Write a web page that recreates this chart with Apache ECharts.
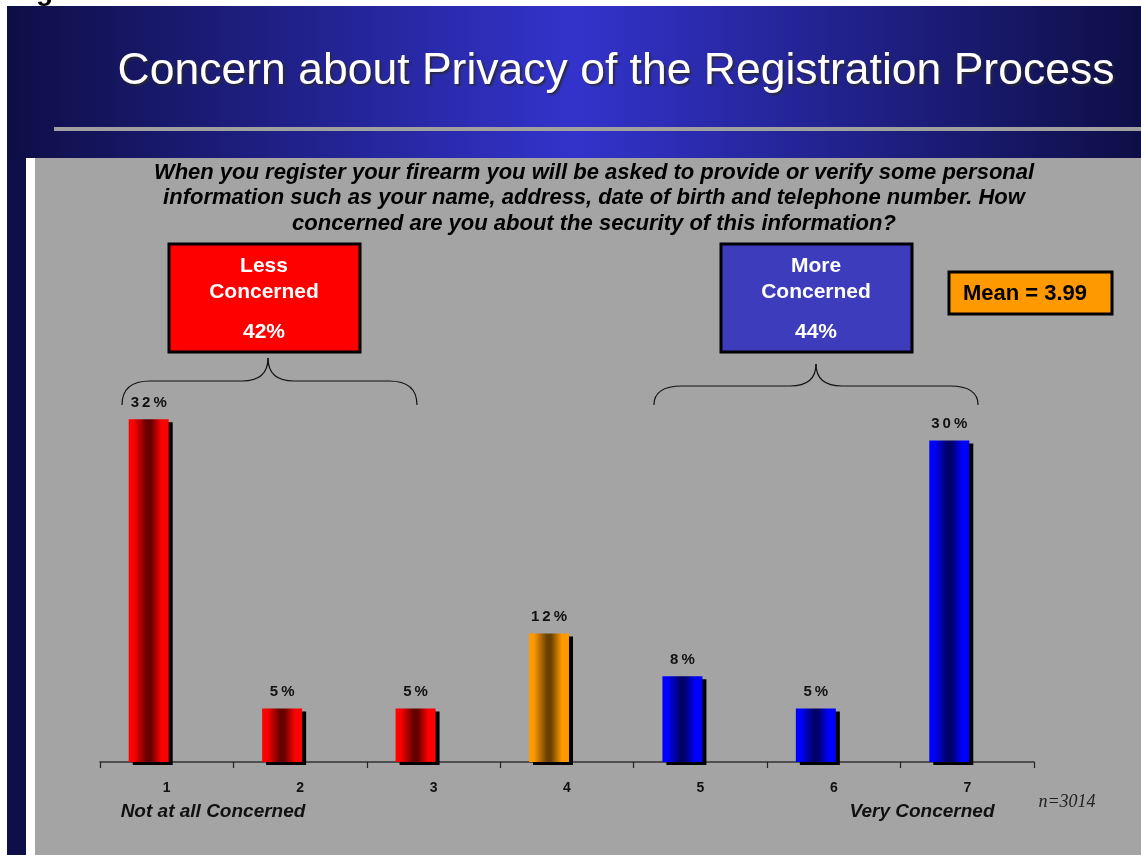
<!DOCTYPE html>
<html>
<head>
<meta charset="utf-8">
<script src="https://cdn.jsdelivr.net/npm/echarts@6/dist/echarts.min.js"></script>
<style>
    html, body { margin: 0; padding: 0; background: #fff; }
    #chart { width: 1141px; height: 855px; }
</style>
</head>
<body>
<div id="chart"></div>
<script>
// scale points 1..7 and the share of answers (%)
let categories = ['1', '2', '3', '4', '5', '6', '7'];
let percents = [32, 5, 5, 12, 8, 5, 30];
let groups = ['less', 'less', 'less', 'mid', 'more', 'more', 'more'];

let lessShare = '42%';
let moreShare = '44%';
let meanText = 'Mean = 3.99';
let sampleText = 'n=3014';

function barGradient(edge, dark) {
    return {
        type: 'linear', x: 0, y: 0, x2: 1, y2: 0,
        colorStops: [
            {offset: 0, color: edge},
            {offset: 0.12, color: edge},
            {offset: 0.45, color: dark},
            {offset: 0.55, color: dark},
            {offset: 0.82, color: edge},
            {offset: 1, color: edge}
        ]
    };
}

let fills = {
    less: barGradient('#ff0000', '#640000'),
    mid: barGradient('#ff9900', '#6a4000'),
    more: barGradient('#0000ff', '#000066')
};

// curly brace made of curves and lines, opening downwards
function brace(x0, x1, tipX, tipY, yh, yEnd) {
    let st = {fill: 'none', stroke: '#111', lineWidth: 1.2};
    let r = 28;
    return [
        {type: 'bezierCurve', z: 5, shape: {x1: x0, y1: yEnd, x2: x0 + r, y2: yh, cpx1: x0, cpy1: yh}, style: st},
        {type: 'line', z: 5, shape: {x1: x0 + r, y1: yh, x2: tipX - 26, y2: yh}, style: st},
        {type: 'bezierCurve', z: 5, shape: {x1: tipX - 26, y1: yh, x2: tipX, y2: tipY, cpx1: tipX - 7, cpy1: yh, cpx2: tipX, cpy2: yh - 9}, style: st},
        {type: 'bezierCurve', z: 5, shape: {x1: tipX, y1: tipY, x2: tipX + 26, y2: yh, cpx1: tipX, cpy1: yh - 9, cpx2: tipX + 7, cpy2: yh}, style: st},
        {type: 'line', z: 5, shape: {x1: tipX + 26, y1: yh, x2: x1 - r, y2: yh}, style: st},
        {type: 'bezierCurve', z: 5, shape: {x1: x1 - r, y1: yh, x2: x1, y2: yEnd, cpx1: x1, cpy1: yh}, style: st}
    ];
}

let myChart = echarts.init(document.getElementById('chart'));

let option = {
    animation: false,
    backgroundColor: '#ffffff',
    grid: {
        left: 100,
        right: 107,
        top: 387,
        bottom: 93
    },
    xAxis: {
        type: 'category',
        data: categories,
        boundaryGap: true,
        axisLine: {show: true, lineStyle: {color: '#333', width: 1.5}},
        axisTick: {show: true, alignWithLabel: false, interval: 0, length: 6, lineStyle: {color: '#222', width: 1.2}},
        axisLabel: {
            margin: 19,
            color: '#111',
            fontSize: 14,
            fontWeight: 'bold',
            fontFamily: 'Liberation Sans, Arial, sans-serif'
        }
    },
    yAxis: {
        type: 'value',
        show: false,
        min: 0,
        max: 35,
        splitLine: {show: false}
    },
    series: [
        {
            name: 'share',
            type: 'bar',
            barWidth: 40,
            barGap: '-10%',
            data: percents.map((v, i) => ({
                value: v,
                itemStyle: {
                    color: fills[groups[i]],
                    shadowColor: '#000',
                    shadowOffsetX: 4,
                    shadowOffsetY: 3,
                    shadowBlur: 0
                }
            })),
            label: {
                show: true,
                position: 'top',
                distance: 9,
                color: '#111',
                fontSize: 15,
                fontWeight: 'bold',
                fontFamily: 'Liberation Sans, Arial, sans-serif',
                formatter: p => (String(p.value) + '%').split('').join('\u2009')
            },
            emphasis: {disabled: true}
        },
        {
            // empty slot, keeps the bars left of the category centre like the original
            name: 'spacer',
            type: 'bar',
            barWidth: 40,
            barGap: '-10%',
            data: categories.map(() => null),
            silent: true
        }
    ],
    graphic: [
        {type: 'text', z: -20, x: 36, y: 6, style: {text: 'g', font: 'bold 28px Liberation Sans, Arial', fill: '#000', textVerticalAlign: 'bottom'}},
        {type: 'rect', z: -10, shape: {x: 7, y: 6, width: 1134, height: 849}, style: {fill: '#0e0e48'}},
        {
            type: 'rect', z: -9, shape: {x: 7, y: 6, width: 1134, height: 152},
            style: {
                fill: {
                    type: 'linear', x: 0, y: 0, x2: 1, y2: 0,
                    colorStops: [
                        {offset: 0, color: '#0e0e46'},
                        {offset: 0.5, color: '#3333cc'},
                        {offset: 1, color: '#0e0e46'}
                    ]
                }
            }
        },
        {type: 'rect', z: -8, shape: {x: 54, y: 127, width: 1087, height: 4}, style: {fill: '#a0a0a0'}},
        {type: 'rect', z: -8, shape: {x: 26, y: 158, width: 9, height: 697}, style: {fill: '#ffffff'}},
        {type: 'rect', z: -8, shape: {x: 35, y: 158, width: 1106, height: 697}, style: {fill: '#a4a4a4'}},
        {
            type: 'text', z: 5, x: 616, y: 72,
            style: {
                text: 'Concern about Privacy of the Registration Process',
                font: '44.5px Liberation Sans, Arial, sans-serif',
                fill: '#ffffff',
                textAlign: 'center',
                textVerticalAlign: 'middle',
                textShadowColor: 'rgba(40,40,40,0.8)',
                textShadowOffsetX: 2,
                textShadowOffsetY: 2,
                textShadowBlur: 2
            }
        },
        {
            type: 'text', z: 5, x: 594, y: 198,
            style: {
                text: 'When you register your firearm you will be asked to provide or verify some personal\n' +
                    'information such as your name, address, date of birth and telephone number. How\n' +
                    'concerned are you about the security of this information?',
                font: 'italic bold 22px Liberation Sans, Arial, sans-serif',
                lineHeight: 25.5,
                fill: '#000',
                textAlign: 'center',
                textVerticalAlign: 'middle'
            }
        },
        // less concerned box
        {type: 'rect', z: 5, shape: {x: 169, y: 244, width: 191, height: 108}, style: {fill: '#ff0000', stroke: '#000', lineWidth: 3}},
        {
            type: 'text', z: 6, x: 264, y: 279,
            style: {text: 'Less\nConcerned', font: 'bold 21px Liberation Sans, Arial, sans-serif', lineHeight: 26, fill: '#fff', textAlign: 'center', textVerticalAlign: 'middle'}
        },
        {
            type: 'text', z: 6, x: 264, y: 332,
            style: {text: lessShare, font: 'bold 21px Liberation Sans, Arial, sans-serif', fill: '#fff', textAlign: 'center', textVerticalAlign: 'middle'}
        },
        // more concerned box
        {type: 'rect', z: 5, shape: {x: 721, y: 244, width: 191, height: 108}, style: {fill: '#3c3cbd', stroke: '#000', lineWidth: 3}},
        {
            type: 'text', z: 6, x: 816, y: 279,
            style: {text: 'More\nConcerned', font: 'bold 21px Liberation Sans, Arial, sans-serif', lineHeight: 26, fill: '#fff', textAlign: 'center', textVerticalAlign: 'middle'}
        },
        {
            type: 'text', z: 6, x: 816, y: 332,
            style: {text: moreShare, font: 'bold 21px Liberation Sans, Arial, sans-serif', fill: '#fff', textAlign: 'center', textVerticalAlign: 'middle'}
        },
        // mean box
        {type: 'rect', z: 5, shape: {x: 949, y: 272, width: 163, height: 42}, style: {fill: '#ff9900', stroke: '#000', lineWidth: 3}},
        {
            type: 'text', z: 6, x: 1025, y: 294,
            style: {text: meanText, font: 'bold 22px Liberation Sans, Arial, sans-serif', fill: '#000', textAlign: 'center', textVerticalAlign: 'middle'}
        },
        // braces
        ...brace(122, 417, 268, 358, 381, 405),
        ...brace(654, 978, 816, 364, 386, 405),
        // scale end labels and sample size
        {
            type: 'text', z: 5, x: 213, y: 812,
            style: {text: 'Not at all Concerned', font: 'italic bold 19px Liberation Sans, Arial, sans-serif', fill: '#111', textAlign: 'center', textVerticalAlign: 'middle'}
        },
        {
            type: 'text', z: 5, x: 922, y: 812,
            style: {text: 'Very Concerned', font: 'italic bold 19px Liberation Sans, Arial, sans-serif', fill: '#111', textAlign: 'center', textVerticalAlign: 'middle'}
        },
        {
            type: 'text', z: 5, x: 1067, y: 802,
            style: {text: sampleText, font: 'italic 18px Liberation Serif, Times New Roman, serif', fill: '#222', textAlign: 'center', textVerticalAlign: 'middle'}
        }
    ]
};

if (option && typeof option === "object") {
    myChart.setOption(option, true);
}
</script>
</body>
</html>
